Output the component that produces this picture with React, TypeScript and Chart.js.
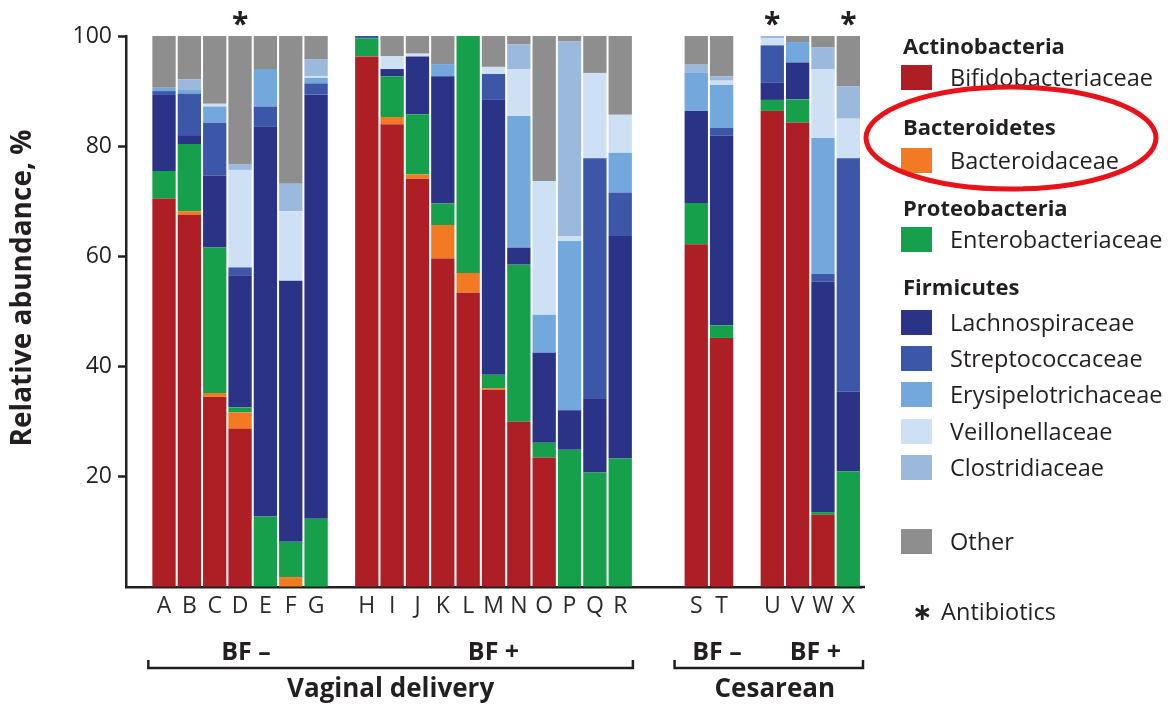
import React, { useEffect, useRef } from 'react';
import { Chart, registerables } from 'chart.js';

Chart.register(...registerables);

// ---- data ----
const samples = ['A','B','C','D','E','F','G','H','I','J','K','L','M','N','O','P','Q','R','S','T','U','V','W','X'];
// x slots: blanks are spacer columns between groups
const slots = ['', 'A','B','C','D','E','F','G', '', 'H','I','J','K','L','M','N','O','P','Q','R', '', '', 'S','T', '', 'U','V','W','X'];
const antibiotics = ['D', 'U', 'X'];
const yTicks = [20, 40, 60, 80, 100];

const bifidobacteriaceae = [70.5, 67.5, 34.5, 28.7, 0, 0, 0, 96.3, 84.0, 74.1, 59.6, 53.4, 35.8, 30.0, 23.5, 0, 0, 0, 62.2, 45.2, 86.4, 84.3, 13.1, 0];
const bacteroidaceae = [0, 0.7, 0.7, 3.0, 0, 1.8, 0, 0, 1.3, 0.8, 6.1, 3.6, 0.3, 0, 0, 0, 0, 0, 0, 0, 0, 0, 0, 0];
const enterobacteriaceae = [5.0, 12.2, 26.4, 0.9, 12.8, 6.4, 12.4, 3.3, 7.4, 10.9, 3.9, 43.0, 2.4, 28.5, 2.7, 24.9, 20.8, 23.3, 7.5, 2.3, 2.0, 4.2, 0.5, 21.0];
const lachnospiraceae = [13.8, 1.6, 13.1, 24.0, 70.7, 47.4, 77.0, 0, 1.3, 10.5, 23.1, 0, 49.9, 3.1, 16.3, 7.2, 13.3, 40.4, 16.7, 34.4, 3.1, 6.7, 41.8, 14.5];
const streptococcaceae = [0.7, 7.5, 9.5, 1.4, 3.7, 0, 2.0, 0.4, 0, 0, 0, 0, 4.7, 0, 0, 0, 43.7, 7.9, 0, 1.4, 6.8, 0, 1.4, 42.3];
const erysipelotrichaceae = [0.6, 0.7, 3.0, 0, 6.8, 0, 1.0, 0, 0, 0, 2.2, 0, 0, 23.9, 6.9, 30.7, 0, 7.2, 6.9, 7.8, 0, 3.7, 24.7, 0];
const veillonellaceae = [0, 0, 0.5, 17.7, 0, 12.6, 0.3, 0, 2.3, 0.5, 0, 0, 1.3, 8.5, 24.3, 0.8, 15.5, 6.9, 0, 0.8, 1.3, 0, 12.5, 7.2];
const clostridiaceae = [0, 1.9, 0, 1.0, 0, 5.0, 3.1, 0, 0, 0, 0, 0, 0, 4.5, 0, 35.4, 0, 0, 1.5, 0.8, 0.4, 0, 3.9, 5.9];
const other = [9.4, 7.9, 12.3, 23.3, 6.0, 26.8, 4.2, 0, 3.7, 3.2, 5.1, 0, 5.6, 1.5, 26.3, 1.0, 6.7, 14.3, 5.2, 7.3, 0, 1.1, 2.1, 9.1];

const families = [
  { phylum: 'Actinobacteria', name: 'Bifidobacteriaceae', color: '#AE1F25', values: bifidobacteriaceae },
  { phylum: 'Bacteroidetes', name: 'Bacteroidaceae', color: '#F27A22', values: bacteroidaceae },
  { phylum: 'Proteobacteria', name: 'Enterobacteriaceae', color: '#16A04B', values: enterobacteriaceae },
  { phylum: 'Firmicutes', name: 'Lachnospiraceae', color: '#2A3386', values: lachnospiraceae },
  { phylum: 'Firmicutes', name: 'Streptococcaceae', color: '#3C57A8', values: streptococcaceae },
  { phylum: 'Firmicutes', name: 'Erysipelotrichaceae', color: '#73A8DC', values: erysipelotrichaceae },
  { phylum: 'Firmicutes', name: 'Veillonellaceae', color: '#CDE0F4', values: veillonellaceae },
  { phylum: 'Firmicutes', name: 'Clostridiaceae', color: '#9BB8DD', values: clostridiaceae },
  { phylum: '', name: 'Other', color: '#8E8E8E', values: other },
];

const feedingGroups = [
  { label: 'BF \u2013', from: 'A', to: 'G', shift: 6 },
  { label: 'BF +', from: 'H', to: 'R', shift: 0 },
  { label: 'BF \u2013', from: 'S', to: 'T', shift: 8 },
  { label: 'BF +', from: 'U', to: 'X', shift: 5 },
];
const deliveryGroups = [
  { label: 'Vaginal delivery', from: 'A', to: 'R', padL: 3, padR: 0, shift: 0 },
  { label: 'Cesarean', from: 'S', to: 'X', padL: 9, padR: 2, shift: 6 },
];

const FONT = '"Open Sans", "Noto Sans", sans-serif';
const INK = '#231f20';

// legend layout (rows, y centres)
const legendRows = [
  { type: 'head', text: 'Actinobacteria', y: 45 },
  { type: 'item', idx: 0, y: 77 },
  { type: 'head', text: 'Bacteroidetes', y: 126 },
  { type: 'item', idx: 1, y: 160 },
  { type: 'head', text: 'Proteobacteria', y: 207 },
  { type: 'item', idx: 2, y: 239 },
  { type: 'head', text: 'Firmicutes', y: 286 },
  { type: 'item', idx: 3, y: 322 },
  { type: 'item', idx: 4, y: 358 },
  { type: 'item', idx: 5, y: 394 },
  { type: 'item', idx: 6, y: 431 },
  { type: 'item', idx: 7, y: 467 },
  { type: 'item', idx: 8, y: 541 },
];

const annotations = {
  id: 'annotations',
  afterDraw(chart: any) {
    const ctx = chart.ctx;
    const xs = chart.scales.x;
    const slotW = xs.width / slots.length;
    const px = (s: string) => xs.getPixelForValue(slots.indexOf(s));
    ctx.save();
    ctx.fillStyle = INK;
    ctx.strokeStyle = INK;

    // extend the x axis line a little past the last bar
    ctx.lineWidth = 2.5;
    ctx.beginPath();
    ctx.moveTo(xs.right - 1, xs.top);
    ctx.lineTo(xs.right + 4, xs.top);
    ctx.stroke();

    // y title
    ctx.save();
    ctx.translate(23, 288);
    ctx.rotate(-Math.PI / 2);
    ctx.font = `bold 28px ${FONT}`;
    ctx.textAlign = 'center';
    ctx.textBaseline = 'middle';
    ctx.fillText('Relative abundance, %', 0, 0);
    ctx.restore();

    // antibiotics asterisks
    ctx.font = `bold 30px ${FONT}`;
    ctx.textAlign = 'center';
    ctx.textBaseline = 'alphabetic';
    const m = ctx.measureText('*');
    antibiotics.forEach((s) => {
      const yc = 18;
      const base = yc + (m.actualBoundingBoxAscent - m.actualBoundingBoxDescent) / 2;
      ctx.fillText('*', px(s), base);
    });

    // feeding labels
    ctx.font = `bold 25px ${FONT}`;
    ctx.textAlign = 'center';
    ctx.textBaseline = 'alphabetic';
    feedingGroups.forEach((g) => {
      const cx = (px(g.from) + px(g.to)) / 2 + g.shift;
      ctx.fillText(g.label, cx, 660);
    });

    // brackets + delivery labels
    ctx.font = `bold 26px ${FONT}`;
    ctx.lineWidth = 2.5;
    deliveryGroups.forEach((g) => {
      const x1 = px(g.from) - slotW / 2 - g.padL;
      const x2 = px(g.to) + slotW / 2 + g.padR;
      const yl = 668;
      ctx.beginPath();
      ctx.moveTo(x1, yl - 8);
      ctx.lineTo(x1, yl);
      ctx.lineTo(x2, yl);
      ctx.lineTo(x2, yl - 8);
      ctx.stroke();
      ctx.fillText(g.label, (x1 + x2) / 2 + g.shift, 697);
    });
    ctx.restore();
  },
};

export default function App() {
  const ref = useRef<HTMLCanvasElement>(null);
  useEffect(() => {
    const datasets = families.map((f) => ({
      label: f.name,
      data: slots.map((s) => (s ? f.values[samples.indexOf(s)] : null)),
      backgroundColor: f.color,
      borderWidth: 0,
      barPercentage: 0.92,
      categoryPercentage: 1,
    }));
    const chart = new Chart(ref.current as HTMLCanvasElement, {
      type: 'bar',
      data: { labels: slots, datasets },
      options: {
        animation: false,
        responsive: false,
        devicePixelRatio: 1,
        layout: { padding: { left: 0, top: 36, right: 1173 - 861, bottom: 0 } },
        plugins: { legend: { display: false }, tooltip: { enabled: false }, title: { display: false } },
        scales: {
          x: {
            stacked: true,
            grid: { display: false },
            border: { display: true, color: INK, width: 2.5 },
            ticks: { autoSkip: false, maxRotation: 0, color: '#2b2b2b', font: { family: FONT, size: 23 }, padding: -2 },
            afterFit: (s: any) => { s.height = 706 - 587; },
          },
          y: {
            stacked: true,
            min: 0,
            max: 100,
            afterBuildTicks: (s: any) => { s.ticks = [0, ...yTicks].map((v) => ({ value: v })); },
            ticks: {
              color: INK,
              font: { family: FONT, size: 23 },
              padding: 6,
              callback: (v: any) => (v === 0 ? '' : String(v)),
            },
            grid: {
              drawOnChartArea: false,
              drawTicks: true,
              tickLength: 8,
              tickWidth: 2.5,
              tickColor: (c: any) => (c.tick && c.tick.value === 0 ? 'rgba(0,0,0,0)' : INK),
            },
            border: { display: true, color: INK, width: 2.5 },
            afterFit: (s: any) => { s.width = 126; },
          },
        },
      },
      plugins: [annotations],
    });
    return () => chart.destroy();
  }, []);

  return (
    <div style={{ position: 'fixed', left: 0, top: 0, width: 1173, height: 706, background: '#fff', fontFamily: FONT, color: INK }}>
      <canvas ref={ref} width={1173} height={706} style={{ position: 'absolute', left: 0, top: 0, width: 1173, height: 706 }} />
      {legendRows.map((r, i) =>
        r.type === 'head' ? (
          <div key={i} style={{ position: 'absolute', left: 903, top: r.y - 15, height: 30, lineHeight: '30px', fontSize: 22, fontWeight: 700, whiteSpace: 'nowrap' }}>{r.text}</div>
        ) : (
          <div key={i} style={{ position: 'absolute', left: 901, top: r.y - 15, height: 30, lineHeight: '30px', fontSize: 23.5, whiteSpace: 'nowrap' }}>
            <span style={{ position: 'absolute', left: 0, top: 3, width: 31, height: 25, background: families[r.idx as number].color }} />
            <span style={{ position: 'absolute', left: 49 }}>{families[r.idx as number].name}</span>
          </div>
        )
      )}
      <div style={{ position: 'absolute', left: 912, top: 596, height: 30, lineHeight: '30px', fontSize: 23.5, whiteSpace: 'nowrap' }}>
        <span style={{ fontFamily: '"DejaVu Sans", sans-serif', fontWeight: 700, fontSize: 24 }}>{'\u2217'}</span>
        <span style={{ marginLeft: 9 }}>Antibiotics</span>
      </div>
      <svg width={1173} height={706} style={{ position: 'absolute', left: 0, top: 0, pointerEvents: 'none' }}>
        <ellipse cx={1011} cy={138} rx={145} ry={51} fill="none" stroke="#E8131A" strokeWidth={5} />
      </svg>
    </div>
  );
}
